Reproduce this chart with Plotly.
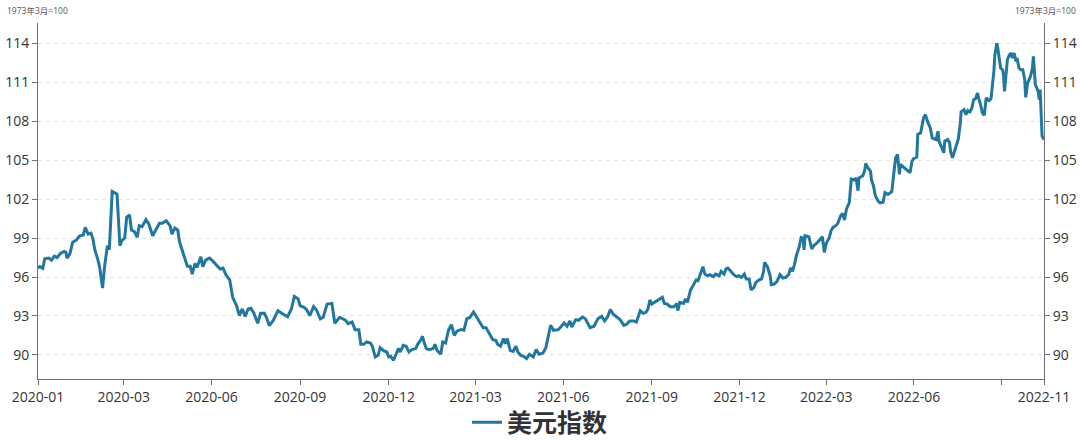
import plotly.graph_objects as go

# ---------------- data ----------------
dates_2020 = [
    "2020-01-02", "2020-01-04", "2020-01-07", "2020-01-09", "2020-01-13", "2020-01-16", "2020-01-19",
    "2020-01-22", "2020-01-25", "2020-01-29", "2020-01-31", "2020-02-01", "2020-02-04", "2020-02-07",
    "2020-02-11", "2020-02-14", "2020-02-18", "2020-02-20", "2020-02-23", "2020-02-26", "2020-02-28",
    "2020-03-01", "2020-03-04", "2020-03-06", "2020-03-09", "2020-03-11", "2020-03-14", "2020-03-16",
    "2020-03-19", "2020-03-24", "2020-03-27", "2020-03-29", "2020-04-01", "2020-04-03", "2020-04-06",
    "2020-04-08", "2020-04-11", "2020-04-14", "2020-04-16", "2020-04-19", "2020-04-23", "2020-04-26",
    "2020-04-30", "2020-05-04", "2020-05-07", "2020-05-10", "2020-05-14", "2020-05-18", "2020-05-20",
    "2020-05-23", "2020-05-26", "2020-05-28", "2020-06-01", "2020-06-05", "2020-06-08", "2020-06-10",
    "2020-06-13", "2020-06-15", "2020-06-19", "2020-06-21", "2020-06-24", "2020-06-28", "2020-07-01",
    "2020-07-05", "2020-07-09", "2020-07-12", "2020-07-15", "2020-07-19", "2020-07-22", "2020-07-26",
    "2020-07-29", "2020-08-01", "2020-08-04", "2020-08-07", "2020-08-10", "2020-08-13", "2020-08-17",
    "2020-08-20", "2020-08-24", "2020-08-26", "2020-08-29", "2020-09-02", "2020-09-07", "2020-09-12",
    "2020-09-17", "2020-09-21", "2020-09-24", "2020-09-28", "2020-09-30", "2020-10-04", "2020-10-07",
    "2020-10-10", "2020-10-14", "2020-10-17", "2020-10-21", "2020-10-24", "2020-10-28", "2020-11-02",
    "2020-11-05", "2020-11-10", "2020-11-16", "2020-11-19", "2020-11-23", "2020-11-26", "2020-11-30",
    "2020-12-02", "2020-12-05", "2020-12-08", "2020-12-12", "2020-12-14", "2020-12-17", "2020-12-20",
    "2020-12-22", "2020-12-26", "2020-12-29", "2020-12-31",
]
values_2020 = [
    96.70, 96.80, 96.67, 97.40, 97.46, 97.30, 97.60,
    97.50, 97.80, 97.97, 97.90, 97.46, 97.77, 98.67,
    98.85, 99.15, 99.23, 99.82, 99.30, 99.38, 98.92,
    98.08, 97.38, 96.74, 95.15, 96.74, 98.41, 98.10,
    102.59, 102.38, 98.41, 98.80, 99.00, 100.59, 100.77,
    99.62, 99.50, 99.05, 99.95, 99.87, 100.41, 100.08,
    99.18, 99.70, 100.13, 100.13, 100.33, 99.95, 99.30,
    99.77, 99.62, 98.67, 97.77, 96.82, 96.82, 96.23,
    97.05, 96.74, 97.56, 96.80, 97.30, 97.46, 97.26,
    96.95, 96.62, 96.69, 96.18, 95.77, 94.44, 93.80,
    93.03, 93.54, 92.97, 93.54, 93.59, 93.21, 92.44,
    93.21, 93.21, 92.90, 92.26, 92.64, 93.41, 93.15,
    92.95, 93.54, 94.51, 94.31, 93.80, 93.67, 93.46,
    93.03, 93.72, 93.46, 92.77, 92.90, 93.92, 93.97,
    92.44, 92.90, 92.67, 92.41, 92.54, 91.95, 91.95,
    90.82, 90.82, 91.00, 90.92, 90.67, 89.85, 89.97,
    90.56, 90.31, 90.23, 89.85,
]

dates_2021 = [
    "2021-01-02", "2021-01-05", "2021-01-08", "2021-01-10", "2021-01-12", "2021-01-15", "2021-01-18",
    "2021-01-21", "2021-01-24", "2021-01-28", "2021-01-30", "2021-02-02", "2021-02-04", "2021-02-05",
    "2021-02-08", "2021-02-11", "2021-02-15", "2021-02-17", "2021-02-19", "2021-02-23", "2021-02-25",
    "2021-02-28", "2021-03-03", "2021-03-06", "2021-03-09", "2021-03-12", "2021-03-16", "2021-03-19",
    "2021-03-22", "2021-03-25", "2021-03-29", "2021-04-01", "2021-04-05", "2021-04-08", "2021-04-11",
    "2021-04-15", "2021-04-18", "2021-04-21", "2021-04-23", "2021-04-26", "2021-04-29", "2021-05-01",
    "2021-05-03", "2021-05-06", "2021-05-09", "2021-05-12", "2021-05-14", "2021-05-17", "2021-05-20",
    "2021-05-23", "2021-05-26", "2021-05-30", "2021-06-02", "2021-06-05", "2021-06-09", "2021-06-12",
    "2021-06-14", "2021-06-17", "2021-06-20", "2021-06-25", "2021-06-29", "2021-07-01", "2021-07-04",
    "2021-07-07", "2021-07-09", "2021-07-13", "2021-07-16", "2021-07-20", "2021-07-23", "2021-07-28",
    "2021-08-01", "2021-08-05", "2021-08-09", "2021-08-12", "2021-08-15", "2021-08-18", "2021-08-21",
    "2021-08-25", "2021-08-28", "2021-09-01", "2021-09-04", "2021-09-07", "2021-09-11", "2021-09-14",
    "2021-09-17", "2021-09-18", "2021-09-21", "2021-09-24", "2021-09-26", "2021-09-28", "2021-09-30",
    "2021-10-04", "2021-10-07", "2021-10-11", "2021-10-13", "2021-10-16", "2021-10-19", "2021-10-23",
    "2021-10-26", "2021-10-27", "2021-10-29", "2021-11-02", "2021-11-04", "2021-11-06", "2021-11-09",
    "2021-11-12", "2021-11-15", "2021-11-17", "2021-11-20", "2021-11-22", "2021-11-24", "2021-11-27",
    "2021-11-29", "2021-12-03", "2021-12-05", "2021-12-09", "2021-12-11", "2021-12-14", "2021-12-16",
    "2021-12-18", "2021-12-21", "2021-12-24", "2021-12-27", "2021-12-29",
]
values_2021 = [
    89.90, 89.59, 90.10, 90.49, 90.23, 90.74, 90.67,
    90.23, 90.41, 90.49, 90.82, 91.13, 91.44, 91.13,
    90.49, 90.41, 90.49, 90.82, 90.36, 90.05, 91.00,
    90.92, 91.90, 92.33, 91.51, 91.85, 91.95, 91.90,
    92.79, 92.87, 93.31, 92.92, 92.41, 92.10, 92.10,
    91.51, 91.18, 91.13, 90.82, 90.67, 91.26, 90.87,
    91.26, 90.36, 90.28, 90.67, 90.23, 89.97, 89.90,
    89.72, 90.05, 89.85, 90.41, 90.05, 90.15, 90.56,
    91.26, 92.28, 91.90, 91.95, 92.28, 92.46, 92.21,
    92.62, 92.15, 92.72, 92.67, 92.92, 92.79, 92.10,
    92.21, 92.79, 92.97, 92.62, 92.92, 93.49, 93.13,
    92.87, 92.72, 92.28, 92.36, 92.62, 92.62, 92.54,
    93.23, 93.41, 93.20, 93.28, 93.54, 94.23, 93.92,
    94.13, 94.23, 94.44, 93.97, 93.92, 93.72, 93.72,
    93.97, 93.41, 94.05, 93.97, 94.31, 94.05, 94.95,
    95.33, 95.77, 95.72, 96.36, 96.79, 96.23, 96.10,
    96.18, 96.03, 96.23, 96.10, 96.44, 96.23, 96.62,
    96.69, 96.44, 96.18, 96.03, 96.10,
]

dates_2022 = [
    "2022-01-01", "2022-01-04", "2022-01-06", "2022-01-09", "2022-01-11", "2022-01-14", "2022-01-16",
    "2022-01-19", "2022-01-22", "2022-01-24", "2022-01-25", "2022-01-28", "2022-01-31", "2022-02-01",
    "2022-02-04", "2022-02-07", "2022-02-10", "2022-02-13", "2022-02-16", "2022-02-19", "2022-02-21",
    "2022-02-23", "2022-02-25", "2022-02-27", "2022-03-02", "2022-03-04", "2022-03-06", "2022-03-07",
    "2022-03-08", "2022-03-12", "2022-03-15", "2022-03-17", "2022-03-21", "2022-03-26", "2022-03-28",
    "2022-03-30", "2022-04-02", "2022-04-04", "2022-04-06", "2022-04-09", "2022-04-11", "2022-04-13",
    "2022-04-14", "2022-04-16", "2022-04-18", "2022-04-20", "2022-04-23", "2022-04-25", "2022-04-28",
    "2022-04-30", "2022-05-02", "2022-05-03", "2022-05-07", "2022-05-09", "2022-05-10", "2022-05-12",
    "2022-05-15", "2022-05-16", "2022-05-18", "2022-05-20", "2022-05-23", "2022-05-25", "2022-05-28",
    "2022-05-30", "2022-06-02", "2022-06-06", "2022-06-08", "2022-06-10", "2022-06-12", "2022-06-14",
    "2022-06-15", "2022-06-19", "2022-06-22", "2022-06-25", "2022-06-27", "2022-06-29", "2022-07-02",
    "2022-07-03", "2022-07-06", "2022-07-09", "2022-07-11", "2022-07-13", "2022-07-16", "2022-07-18",
    "2022-07-22", "2022-07-24", "2022-07-25", "2022-07-28", "2022-07-30", "2022-07-31", "2022-08-03",
    "2022-08-05", "2022-08-06", "2022-08-08", "2022-08-12", "2022-08-14", "2022-08-16", "2022-08-17",
    "2022-08-20", "2022-08-22", "2022-08-24", "2022-08-26", "2022-08-28", "2022-08-30", "2022-09-01",
    "2022-09-03", "2022-09-05", "2022-09-06", "2022-09-08", "2022-09-10", "2022-09-12", "2022-09-15",
    "2022-09-17", "2022-09-20", "2022-09-21", "2022-09-23", "2022-09-24", "2022-09-27", "2022-09-29",
    "2022-09-30", "2022-10-01", "2022-10-04", "2022-10-06", "2022-10-08", "2022-10-09", "2022-10-11",
    "2022-10-13", "2022-10-14", "2022-10-15", "2022-10-16", "2022-10-18", "2022-10-20", "2022-10-22",
    "2022-10-23", "2022-10-25", "2022-10-28", "2022-10-30", "2022-10-31", "2022-11-02", "2022-11-04",
    "2022-11-05", "2022-11-06", "2022-11-07", "2022-11-09", "2022-11-11",
]
values_2022 = [
    95.97, 96.23, 95.85, 95.85, 95.00, 95.21, 95.59,
    95.77, 95.85, 96.44, 97.13, 96.79, 96.03, 95.41,
    95.46, 95.67, 96.18, 95.92, 95.97, 96.18, 96.69,
    96.44, 96.95, 97.64, 98.33, 99.05, 99.00, 98.08,
    99.18, 99.10, 98.15, 98.41, 98.67, 99.10, 97.90,
    98.59, 99.00, 99.56, 99.82, 99.95, 100.13, 100.46,
    100.72, 100.90, 100.38, 101.23, 101.74, 103.54, 103.46,
    103.62, 102.64, 103.62, 103.79, 104.23, 104.74, 104.44,
    104.13, 103.46, 103.03, 102.26, 101.82, 101.70, 101.75,
    102.49, 102.36, 102.57, 104.15, 105.18, 105.43, 103.90,
    104.66, 104.41, 104.20, 104.03, 104.92, 105.13, 105.23,
    106.97, 107.09, 108.25, 108.50, 107.99, 107.48, 106.71,
    106.58, 107.22, 106.46, 105.82, 105.56, 106.46, 106.58,
    106.33, 105.69, 105.18, 106.07, 106.58, 107.73, 108.71,
    108.88, 108.50, 108.81, 108.71, 108.96, 109.65, 109.73,
    110.16, 109.52, 109.32, 108.63, 108.45, 109.78, 109.58,
    109.73, 111.83, 113.10, 114.00, 113.62, 112.08, 111.95,
    111.57, 110.29, 112.72, 113.10, 113.23, 112.85, 113.23,
    112.59, 112.85, 112.47, 112.08, 111.95, 111.95, 111.19,
    109.83, 110.93, 111.44, 112.08, 112.98, 110.80, 110.42,
    110.29, 109.65, 110.42, 106.84, 106.58,
]

tick_dates = [
    "2020-01-02", "2020-03-31", "2020-06-30", "2020-09-30", "2020-12-31", "2021-03-31",
    "2021-06-30", "2021-09-30", "2021-12-30", "2022-03-30", "2022-06-29", "2022-09-28", "2022-11-11",
]
tick_labels = [
    "2020-01", "2020-03", "2020-06", "2020-09", "2020-12", "2021-03",
    "2021-06", "2021-09", "2021-12", "2022-03", "2022-06", "", "2022-11",
]
y_ticks = [90, 93, 96, 99, 102, 105, 108, 111, 114]
series_name = "美元指数"
unit_label = "1973年3月=100"

# ---------------- figure ----------------
dates = dates_2020 + dates_2021 + dates_2022
values = values_2020 + values_2021 + values_2022

LINE_COLOR = "#22779f"
AXIS_COLOR = "#6e7079"
TEXT_COLOR = "#333333"
FONT = "Open Sans, Noto Sans CJK SC, sans-serif"
Y_RANGE = [88.15, 115.55]

fig = go.Figure()
fig.add_trace(go.Scatter(
    x=dates, y=values, mode="lines", name=series_name,
    line=dict(color=LINE_COLOR, width=3), yaxis="y",
))
# invisible copy so the right-hand axis is drawn
fig.add_trace(go.Scatter(
    x=dates, y=values, mode="lines", showlegend=False, hoverinfo="skip",
    line=dict(color=LINE_COLOR, width=3), opacity=0, yaxis="y2",
))

axis_common = dict(
    range=Y_RANGE, tickmode="array", tickvals=y_ticks, automargin=False,
    showline=True, linecolor=AXIS_COLOR, linewidth=1,
    ticks="outside", ticklen=5, tickcolor=AXIS_COLOR,
    zeroline=False, tickfont=dict(size=14, color=TEXT_COLOR, family=FONT),
)

fig.update_layout(
    width=1080, height=440,
    margin=dict(l=38, r=36, t=23, b=61, autoexpand=False),
    paper_bgcolor="white", plot_bgcolor="white",
    font=dict(family=FONT, color=TEXT_COLOR),
    showlegend=True,
    legend=dict(
        orientation="h", x=0.5, xanchor="center", xref="container",
        y=0.04, yanchor="middle", yref="container",
        font=dict(size=25, family="Noto Sans CJK SC", color=TEXT_COLOR, weight="bold"),
        itemwidth=30, bgcolor="rgba(0,0,0,0)", borderwidth=0,
    ),
    xaxis=dict(
        type="date", range=[dates[0], dates[-1]], automargin=False,
        tickmode="array", tickvals=tick_dates, ticktext=tick_labels, tickangle=0,
        showline=True, linecolor=AXIS_COLOR, linewidth=1,
        ticks="outside", ticklen=5, tickcolor=AXIS_COLOR,
        showgrid=False, zeroline=False,
        tickfont=dict(size=14, color=TEXT_COLOR, family=FONT),
    ),
    yaxis=dict(
        **axis_common, side="left",
        showgrid=True, gridcolor="#e3e3e3", griddash="4px,4px", gridwidth=1,
    ),
    yaxis2=dict(
        **axis_common, side="right", overlaying="y", showgrid=False,
    ),
    annotations=[
        dict(text=unit_label, xref="paper", yref="paper", x=0, y=1, xanchor="left",
             xshift=-33, yanchor="middle", yshift=13, showarrow=False,
             font=dict(size=8.5, color="#555555", family=FONT)),
        dict(text=unit_label, xref="paper", yref="paper", x=1, y=1, xanchor="right",
             xshift=34, yanchor="middle", yshift=13, showarrow=False,
             font=dict(size=8.5, color="#555555", family=FONT)),
    ],
)

fig.write_html(
    "out.html",
    config={"displayModeBar": False},
    post_script="document.body.style.margin='0';document.body.style.padding='0';",
)
